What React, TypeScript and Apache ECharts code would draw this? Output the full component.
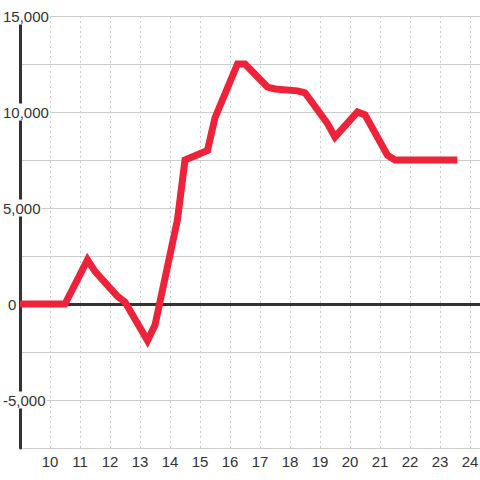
import React, { useEffect, useRef } from 'react';
import * as echarts from 'echarts';

const hours = [9, 10.5, 11.25, 11.5, 12.25, 12.5, 13.25, 13.5, 14.25, 14.5, 15.25, 15.5, 16.25, 16.5, 17.25, 17.5, 18.25, 18.5, 19.25, 19.5, 20.25, 20.5, 21.25, 21.5, 23.58];
const values = [0, 0, 2300, 1700, 400, 100, -1900, -1100, 4400, 7500, 8000, 9700, 12500, 12500, 11300, 11200, 11100, 11000, 9400, 8700, 10000, 9850, 7750, 7500, 7500];
const xMin = 9;
const xMax = 24 + 1 / 3;
const yMin = -7500;
const yMax = 15000;
const yStep = 2500;
const yLabelStep = 5000;

const FONT = '"Liberation Sans", Arial, sans-serif';

export default function App() {
  const ref = useRef<HTMLDivElement>(null);
  useEffect(() => {
    const chart = echarts.init(ref.current!, null, { renderer: 'svg' });
    chart.setOption({
      animation: false,
      backgroundColor: '#fff',
      grid: { left: 20, right: 0, top: 16, bottom: 32, containLabel: false, outerBoundsMode: 'none' },
      xAxis: {
        type: 'value',
        min: xMin,
        max: xMax,
        interval: 1,
        axisLine: { show: false },
        axisTick: { show: false },
        axisLabel: {
          showMinLabel: false,
          showMaxLabel: false,
          color: '#333',
          fontSize: 15,
          fontFamily: FONT,
          margin: 6,
          formatter: (v: number) => (Number.isInteger(v) ? String(v) : ''),
        },
        splitLine: { show: true, lineStyle: { color: '#ccc', type: [2, 3], width: 1 } },
      },
      yAxis: {
        type: 'value',
        min: yMin,
        max: yMax,
        interval: yStep,
        axisLine: { show: true, lineStyle: { color: '#333', width: 3 } },
        axisTick: { show: false },
        axisLabel: {
          align: 'left',
          margin: 17,
          color: '#333',
          fontSize: 15,
          fontFamily: FONT,
          backgroundColor: '#fff',
          padding: [1, 1, 1, 0],
          formatter: (v: number) =>
            v % yLabelStep === 0 ? (v === 0 ? '{z|0}' : v.toLocaleString('en-US')) : '',
          rich: { z: { padding: [0, 0, 0, 5], fontSize: 15, color: '#333', fontFamily: FONT } },
        },
        splitLine: { show: true, lineStyle: { color: '#ccc', width: 1 } },
      },
      series: [
        {
          type: 'line',
          data: hours.map((h, i) => [h, values[i]]),
          symbol: 'none',
          z: 3,
          lineStyle: { color: '#ee2238', width: 7, join: 'miter' },
          markLine: {
            silent: true,
            symbol: 'none',
            z: 2,
            label: { show: false },
            lineStyle: { color: '#333', width: 3, type: 'solid' },
            data: [{ yAxis: 0 }],
          },
        },
      ],
    });
    return () => chart.dispose();
  }, []);
  return <div ref={ref} style={{ position: 'fixed', left: 0, top: 0, width: 480, height: 480 }} />;
}
